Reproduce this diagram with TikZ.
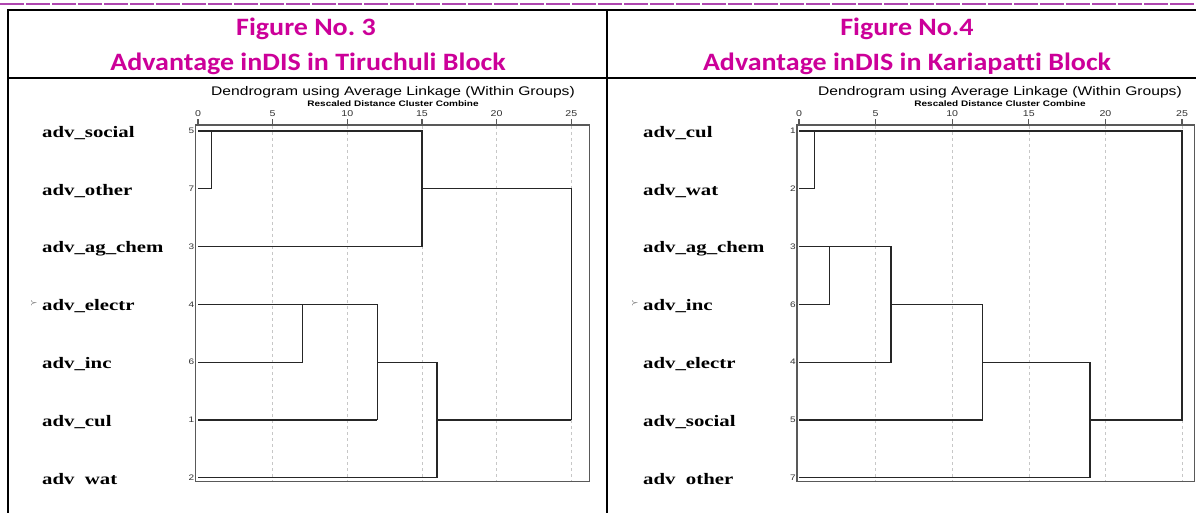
\documentclass[tikz,border=0pt]{standalone}
\usepackage{fontspec}
\usepackage{graphicx}
\newfontfamily\ttlfont[FakeStretch=1.12,Ligatures=NoCommon]{Carlito}
\newfontfamily\arialx[FakeStretch=1.25]{Liberation Sans}
\newfontfamily\timesx[FakeStretch=1.3]{Liberation Serif}
\definecolor{ttl}{RGB}{204,0,153}
\definecolor{toprule}{RGB}{175,70,175}
\newcommand\rA{131}
\newcommand\rB{188.8}
\newcommand\rC{246.6}
\newcommand\rD{304.4}
\newcommand\rE{362.2}
\newcommand\rF{420}
\newcommand\rG{477.8}
\tikzset{
 ttlA/.style={font=\ttlfont\bfseries\fontsize{25bp}{28bp}\selectfont, text=ttl, anchor=base, inner sep=0},
 dtitle/.style={font=\arialx\fontsize{12.5bp}{14bp}\selectfont, anchor=base, inner sep=0},
 dsub/.style={font=\arialx\bfseries\fontsize{8bp}{10bp}\selectfont, anchor=base, inner sep=0},
 ticknum/.style={font=\arialx\fontsize{8.5bp}{10bp}\selectfont, anchor=base, inner sep=0, text=black!80},
 rownum/.style={font=\arialx\fontsize{8bp}{8bp}\selectfont, anchor=east, inner sep=0, text=black!80},
 lab/.style={font=\timesx\bfseries\fontsize{16bp}{18bp}\selectfont, anchor=base west, inner sep=0},
 markx/.style={font=\fontsize{9bp}{9bp}\selectfont, inner sep=0, text=black!75},
 tree/.style={draw=black!85, line width=1.3bp},
 frame/.style={draw=black!65, line width=1.2bp},
 gridl/.style={draw=black!22, line width=0.6bp, dash pattern=on 3bp off 3bp},
}
\begin{document}
\begin{tikzpicture}[x=1bp,y=-1bp]
\useasboundingbox (0,0) rectangle (1196,513);
\fill[white] (0,0) rectangle (1196,513);
% page rules
\draw[toprule, line width=2bp, dash pattern=on 24bp off 2bp] (0,4) -- (1196,4);
\draw[line width=2.5bp] (8,513) -- (8,10) -- (1196,10);
\draw[line width=2.5bp] (607,10) -- (607,513);
\draw[line width=1.2bp] (8,78) -- (600,78);
\draw[line width=1.2bp] (607,78) -- (1196,78);
\draw[line width=2.5bp] (8,78) -- (22,78);
\draw[line width=2.5bp] (598,78) -- (625,78);
% titles
\node[ttlA] (f3) at (306,35.5) {Figure No.\ 3};
\node[ttlA] (t3) at (308,70.5) {Advantage inDIS in Tiruchuli Block};
\node[ttlA] (f4) at (907,35.5) {Figure No.4};
\node[ttlA] (t4) at (907,70.5) {Advantage inDIS in Kariapatti Block};
% ---------- left dendrogram ----------
\node[dtitle] (dl) at (393,96) {Dendrogram using Average Linkage (Within Groups)};
\node[dsub] (sl) at (393,107) {Rescaled Distance Cluster Combine};
\begin{scope}[shift={(198,0)}, xscale=14.93]
 \foreach \u in {5,10,...,25} \draw[gridl] (\u,126) -- (\u,481);
 \draw[frame] (-0.15,125) rectangle (26.2,481.5);
 \foreach \u in {0,5,...,25} {
   \draw[frame] (\u,125) -- (\u,119);
   \node[ticknum] (tl\u) at (\u,117) {\u};
 }
 \draw[tree] (0,\rA) -- (15,\rA) -- (15,\rC);
 \draw[tree] (0,\rB) -- (0.9,\rB) -- (0.9,\rA);
 \draw[tree] (0,\rC) -- (15,\rC);
 \draw[tree] (15,\rB) -- (25,\rB) -- (25,\rF);
 \draw[tree] (0,\rD) -- (12,\rD) -- (12,\rF);
 \draw[tree] (0,\rE) -- (7,\rE) -- (7,\rD);
 \draw[tree] (0,\rF) -- (12,\rF);
 \draw[tree] (12,\rE) -- (16,\rE) -- (16,\rG) -- (0,\rG);
 \draw[tree] (16,\rF) -- (25,\rF);
\end{scope}
\node[rownum] (nl1) at (194.5,\rA) {5};
\node[rownum] (nl2) at (194.5,\rB) {7};
\node[rownum] (nl3) at (194.5,\rC) {3};
\node[rownum] (nl4) at (194.5,\rD) {4};
\node[rownum] (nl5) at (194.5,\rE) {6};
\node[rownum] (nl6) at (194.5,\rF) {1};
\node[rownum] (nl7) at (194.5,\rG) {2};
\node[lab] (ll1) at (42,\rA+6.3) {adv\_social};
\node[lab] (ll2) at (42,\rB+6.3) {adv\_other};
\node[lab] (ll3) at (42,\rC+6.3) {adv\_ag\_chem};
\node[lab] (ll4) at (42,\rD+6.3) {adv\_electr};
\node[lab] (ll5) at (42,\rE+6.3) {adv\_inc};
\node[lab] (ll6) at (42,\rF+6.3) {adv\_cul};
\node[lab] (ll7) at (42,\rG+6.3) {adv\hphantom{\_}wat};
\node[markx] (ml) at (34,\rD-1) {$\succ$};
% ---------- right dendrogram ----------
\node[dtitle] (dr) at (1000,96) {Dendrogram using Average Linkage (Within Groups)};
\node[dsub] (sr) at (1000,107) {Rescaled Distance Cluster Combine};
\begin{scope}[shift={(799,0)}, xscale=15.32]
 \foreach \u in {5,10,...,25} \draw[gridl] (\u,126) -- (\u,481);
 \draw[frame] (-0.13,125) rectangle (25.8,481.5);
 \foreach \u in {0,5,...,25} {
   \draw[frame] (\u,125) -- (\u,119);
   \node[ticknum] (tr\u) at (\u,117) {\u};
 }
 \draw[tree] (0,\rA) -- (25,\rA) -- (25,\rF) -- (19,\rF);
 \draw[tree] (0,\rB) -- (1,\rB) -- (1,\rA);
 \draw[tree] (0,\rC) -- (6,\rC) -- (6,\rE) -- (0,\rE);
 \draw[tree] (0,\rD) -- (2,\rD) -- (2,\rC);
 \draw[tree] (6,\rD) -- (12,\rD) -- (12,\rF) -- (0,\rF);
 \draw[tree] (12,\rE) -- (19,\rE) -- (19,\rG) -- (0,\rG);
\end{scope}
\node[rownum] (nr1) at (796,\rA) {1};
\node[rownum] (nr2) at (796,\rB) {2};
\node[rownum] (nr3) at (796,\rC) {3};
\node[rownum] (nr4) at (796,\rD) {6};
\node[rownum] (nr5) at (796,\rE) {4};
\node[rownum] (nr6) at (796,\rF) {5};
\node[rownum] (nr7) at (796,\rG) {7};
\node[lab] (lr1) at (643,\rA+6.3) {adv\_cul};
\node[lab] (lr2) at (643,\rB+6.3) {adv\_wat};
\node[lab] (lr3) at (643,\rC+6.3) {adv\_ag\_chem};
\node[lab] (lr4) at (643,\rD+6.3) {adv\_inc};
\node[lab] (lr5) at (643,\rE+6.3) {adv\_electr};
\node[lab] (lr6) at (643,\rF+6.3) {adv\_social};
\node[lab] (lr7) at (643,\rG+6.3) {adv\hphantom{\_}other};
\node[markx] (mr) at (635,\rD-1) {$\succ$};
\end{tikzpicture}
\end{document}
